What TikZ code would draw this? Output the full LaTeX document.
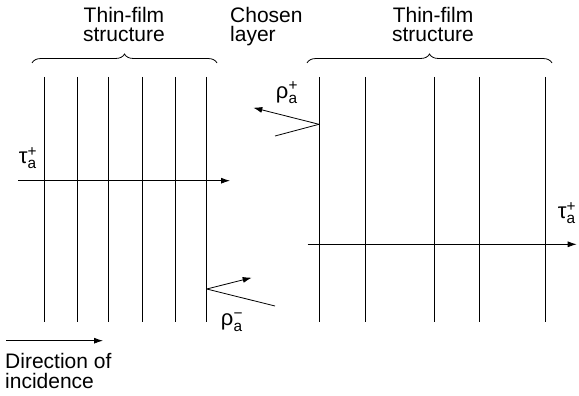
\documentclass[tikz,border=0pt]{standalone}
\usepackage{amsmath}
\usepackage{fontspec}
\setmainfont{Liberation Sans}
\usetikzlibrary{arrows.meta,positioning,decorations.pathreplacing}
\tikzset{
  layer/.style={draw=black,line width=.8pt},
  ray/.style={-{Latex[length=9pt,width=6pt]},draw=black,line width=.8pt},
  plainray/.style={draw=black,line width=.8pt},
  heading/.style={font=\fontsize{21}{19.5}\selectfont,inner sep=0pt,anchor=base},
  coefficient/.style={font=\fontsize{22}{20}\selectfont,inner sep=0pt},
  grouping/.style={decorate,decoration={brace,amplitude=9pt},line width=.8pt}
}
\newcommand{\coef}[2]{$\text{#1}^{\text{#2}}_{\text{a}}$}
\begin{document}
\begin{tikzpicture}[x=1pt,y=-1pt]
  \useasboundingbox (0,0) rectangle (579,396);
  % headings
  \node[heading,align=center] (leftfilm) at (124,41.7) {Thin-film\\structure};
  \node[heading,align=left,anchor=base west] (chosen) at (230,41.7) {Chosen\\layer};
  \node[heading,align=center] (rightfilm) at (433,41.7) {Thin-film\\structure};
  % braces
  \draw[grouping] (32,63) -- (217,63);
  \draw[grouping] (307,63) -- (552,63);
  % layer boundaries
  \foreach \x in {44.7,77.7,108.7,142.7,175.7,206.7}
    \draw[layer] (\x,77) -- (\x,322);
  \foreach \x in {319.3,365,434,479.3,545}
    \draw[layer] (\x,77) -- (\x,322);
  % transmitted rays
  \coordinate (inL) at (18,180.7);
  \coordinate (outL) at (230,180.7);
  \draw[ray] (inL) -- (outL);
  \node[coefficient] (tauL) at (28,158) {\coef{τ}{+}};
  \coordinate (inR) at (307.7,244.3);
  \coordinate (outR) at (576.7,244.3);
  \draw[ray] (inR) -- (outR);
  \node[coefficient] (tauR) at (567,213) {\coef{τ}{+}};
  % reflected rays
  \coordinate (hitP) at (319,124.3);
  \coordinate (fromP) at (275,136);
  \coordinate (toP) at (253.3,107.7);
  \draw[plainray] (fromP) -- (hitP);
  \draw[ray] (hitP) -- (toP);
  \node[coefficient] (rhoP) at (287,93) {\coef{ρ}{+}};
  \coordinate (hitM) at (206.7,289);
  \coordinate (fromM) at (275,306);
  \coordinate (toM) at (251.7,277.7);
  \draw[plainray] (fromM) -- (hitM);
  \draw[ray] (hitM) -- (toM);
  \node[coefficient] (rhoM) at (232,322) {\coef{ρ}{−}};
  % direction of incidence
  \coordinate (dirA) at (6,340.7);
  \coordinate (dirB) at (103,340.7);
  \draw[ray] (dirA) -- (dirB);
  \node[heading,align=left,anchor=base west] (direction) at (5,388) {Direction of\\incidence};
\end{tikzpicture}
\end{document}
